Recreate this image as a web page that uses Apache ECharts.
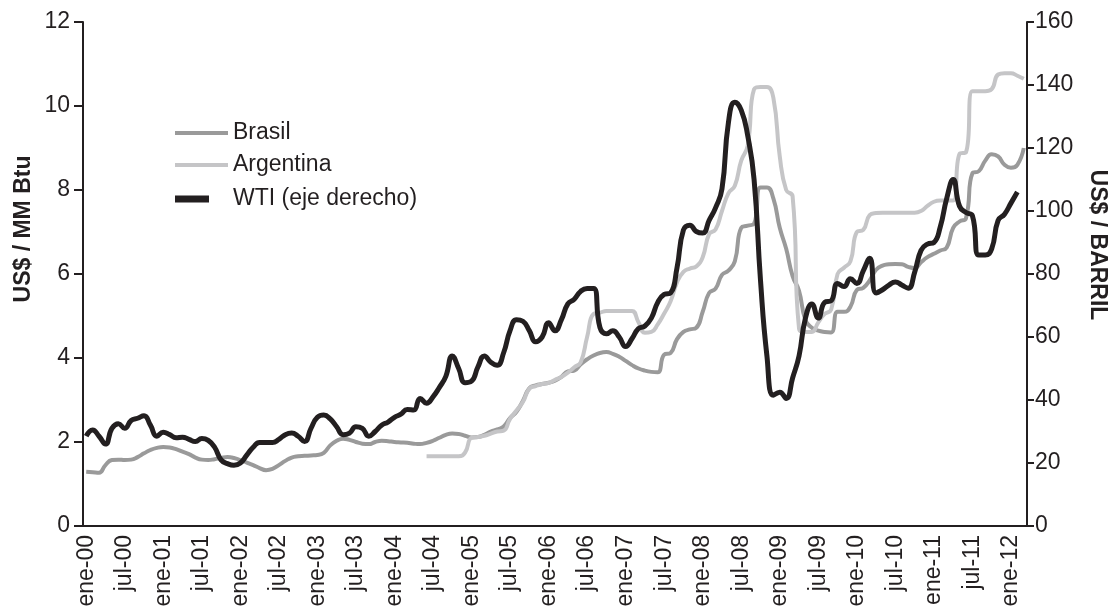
<!DOCTYPE html>
<html>
<head>
<meta charset="utf-8">
<script src="https://cdn.jsdelivr.net/npm/echarts@6/dist/echarts.min.js"></script>
<style>
    html, body { margin: 0; padding: 0; background: #fff; }
    #chart { width: 1108px; height: 611px; }
</style>
</head>
<body>
<div id="chart"></div>
<script>
// meses ene-00 .. mar-12
const meses = ['ene', 'feb', 'mar', 'abr', 'may', 'jun', 'jul', 'ago', 'sep', 'oct', 'nov', 'dic'];
const anios = ['00', '01', '02', '03', '04', '05', '06', '07', '08', '09', '10', '11', '12'];
const totalMeses = 147;

// US$ / MM Btu
const brasil = [
    1.29, 1.28, 1.27, 1.45, 1.57, 1.58, 1.57, 1.58, 1.64, 1.73, 1.81, 1.86,
    1.88, 1.87, 1.83, 1.77, 1.71, 1.63, 1.58, 1.57, 1.59, 1.62, 1.64, 1.62,
    1.57, 1.51, 1.45, 1.38, 1.33, 1.36, 1.45, 1.55, 1.63, 1.66, 1.67, 1.68,
    1.69, 1.74, 1.92, 2.03, 2.08, 2.05, 2.00, 1.96, 1.95, 2.00, 2.03, 2.02,
    2.00, 1.99, 1.98, 1.96, 1.95, 1.98, 2.03, 2.10, 2.17, 2.20, 2.19, 2.15,
    2.11, 2.12, 2.17, 2.25, 2.30, 2.37, 2.57, 2.72, 2.98, 3.28, 3.35, 3.38,
    3.41, 3.46, 3.55, 3.68, 3.70, 3.85, 3.97, 4.06, 4.12, 4.14, 4.10, 4.03,
    3.93, 3.83, 3.75, 3.70, 3.67, 3.66, 4.08, 4.12, 4.45, 4.62, 4.68, 4.72,
    5.10, 5.55, 5.65, 5.98, 6.08, 6.30, 7.10, 7.15, 7.20, 8.06, 8.06, 7.80,
    7.10, 6.60, 5.95, 5.60, 4.90, 4.72, 4.65, 4.62, 4.61, 5.10, 5.10, 5.22,
    5.62, 5.67, 5.85, 6.10, 6.20, 6.23, 6.24, 6.23, 6.17, 6.14, 6.28, 6.40,
    6.48, 6.56, 6.63, 7.10, 7.25, 7.33, 8.40, 8.45, 8.70, 8.85, 8.80, 8.60,
    8.53, 8.60, 9.00
];

// Argentina empieza en jun-04
const argentinaInicio = 53;
const argentina = [
    1.66, 1.66, 1.66, 1.66, 1.66, 1.66, 1.75,
    2.10, 2.12, 2.15, 2.20, 2.25, 2.27, 2.55, 2.75, 2.95, 3.27, 3.33, 3.38,
    3.41, 3.48, 3.55, 3.65, 3.78, 3.90, 4.50, 5.05, 5.08, 5.12, 5.12, 5.12,
    5.12, 5.12, 4.85, 4.60, 4.62, 4.80, 5.06, 5.35, 5.80, 6.05, 6.13, 6.18,
    6.40, 6.95, 7.06, 7.50, 7.92, 8.10, 8.70, 9.05, 10.40, 10.45, 10.45, 10.20,
    8.80, 8.00, 7.85, 4.70, 4.62, 4.62, 4.85, 5.05, 5.15, 6.00, 6.15, 6.30,
    7.00, 7.05, 7.40, 7.45, 7.46, 7.46, 7.46, 7.46, 7.46, 7.46, 7.50, 7.62,
    7.72, 7.75, 7.75, 7.75, 8.86, 8.90, 10.35, 10.35, 10.35, 10.40, 10.75, 10.78,
    10.78, 10.72, 10.65
];

// US$ / barril (eje derecho)
const wti = [
    28.5, 30.5, 28.5, 26, 31, 32.5, 31, 33.5, 34.2, 35, 32, 28.5,
    29.8, 29, 28, 28.2, 27.5, 26.8, 27.8, 27.2, 25, 21, 19.8, 19.3,
    20, 22.5, 25, 26.5, 26.5, 26.5, 27.5, 29, 29.5, 28.5, 26.8, 31,
    34.5, 35.2, 34, 31.5, 29, 29.5, 31.5, 31, 28.5, 30, 32, 33,
    34.5, 35.5, 37, 36.8, 40.5, 39, 41, 44, 47.5, 54, 50, 45.5,
    46, 50.5, 54, 52, 51, 55, 62, 65.5, 65, 62, 58.5, 60,
    64.5, 62, 65.5, 70.5, 72, 74.5, 75.4, 75.4, 63, 61, 62, 60,
    57, 59.5, 62.7, 63.5, 66, 71, 73.5, 74, 82, 94, 95.5, 93.5,
    93, 97, 101, 107, 128, 134.5, 132, 124, 110, 78, 54, 41.5,
    42.5, 40.5, 47, 54, 66, 70.5, 66, 71, 71.5, 77, 76, 78.5,
    77, 81, 85, 74, 75, 76.5, 77.5, 76.5, 75.5, 80.5, 87.5, 89.5,
    90, 95, 104, 110, 101.5, 99.5, 98.5, 86, 86, 88, 97, 99,
    102.5, 106
];

const ejeIzq = { min: 0, max: 12, interval: 2 };
const ejeDer = { min: 0, max: 160, interval: 20 };

const categorias = [];
anios.forEach(a => {
    meses.forEach(m => {
        if (categorias.length < totalMeses) categorias.push(m + '-' + a);
    });
});
const argentinaSerie = new Array(argentinaInicio).fill(null).concat(argentina);

const fuente = '"Liberation Sans", Arial, sans-serif';
const negro = '#231f20';
const grisBrasil = '#9a9a9a';
const grisArgentina = '#c5c5c7';

const chart = echarts.init(document.getElementById('chart'), null, { renderer: 'canvas' });

const legendaBase = {
    orient: 'vertical',
    left: 175,
    padding: 0,
    icon: 'rect',
    itemWidth: 53,
    itemHeight: 4,
    selectedMode: false,
    textStyle: { fontFamily: fuente, fontSize: 23, color: negro, lineHeight: 26 }
};

const option = {
    animation: false,
    backgroundColor: '#fff',
    grid: { left: 83, right: 81, top: 22, bottom: 85 },
    legend: [
        Object.assign({}, legendaBase, { data: ['Brasil'], top: 120 }),
        Object.assign({}, legendaBase, { data: ['Argentina'], top: 152 }),
        Object.assign({}, legendaBase, {
            data: ['WTI (eje derecho)'], top: 186, itemWidth: 34, itemHeight: 7,
            textStyle: { fontFamily: fuente, fontSize: 23, color: negro, lineHeight: 26, padding: [0, 0, 0, 19] }
        })
    ],
    graphic: [
        {
            type: 'text', x: 24, y: 229, rotation: Math.PI / 2,
            style: {
                text: 'US$ / MM Btu', fill: negro,
                font: 'bold 23px ' + fuente,
                align: 'center', verticalAlign: 'middle',
                textAlign: 'center', textVerticalAlign: 'middle'
            }
        },
        {
            type: 'text', x: 1097, y: 245, rotation: -Math.PI / 2,
            style: {
                text: 'US$ / BARRIL', fill: negro,
                font: 'bold 23px ' + fuente,
                align: 'center', verticalAlign: 'middle',
                textAlign: 'center', textVerticalAlign: 'middle'
            }
        }
    ],
    xAxis: {
        type: 'category',
        data: categorias,
        boundaryGap: true,
        axisLine: { lineStyle: { color: negro, width: 2 } },
        axisTick: { interval: 2, length: 5, lineStyle: { color: negro, width: 2 } },
        axisLabel: {
            interval: 5, rotate: 90, margin: 9,
            fontFamily: fuente, fontSize: 23, color: negro
        },
        splitLine: { show: false }
    },
    yAxis: [
        {
            type: 'value',
            min: ejeIzq.min, max: ejeIzq.max, interval: ejeIzq.interval,
            axisLine: { show: true, lineStyle: { color: negro, width: 2 } },
            axisTick: { show: true, length: 9, lineStyle: { color: negro, width: 2 } },
            axisLabel: { margin: 13, fontFamily: fuente, fontSize: 23, color: negro },
            splitLine: { show: false }
        },
        {
            type: 'value',
            position: 'right',
            min: ejeDer.min, max: ejeDer.max, interval: ejeDer.interval,
            axisLine: { show: true, lineStyle: { color: negro, width: 2 } },
            axisTick: { show: true, length: 7, lineStyle: { color: negro, width: 2 } },
            axisLabel: { margin: 8, fontFamily: fuente, fontSize: 23, color: negro },
            splitLine: { show: false }
        }
    ],
    series: [
        {
            name: 'Brasil',
            type: 'line',
            data: brasil,
            smooth: true,
            showSymbol: false,
            color: grisBrasil,
            lineStyle: { width: 4, color: grisBrasil }
        },
        {
            name: 'Argentina',
            type: 'line',
            data: argentinaSerie,
            smooth: true,
            showSymbol: false,
            color: grisArgentina,
            lineStyle: { width: 4, color: grisArgentina }
        },
        {
            name: 'WTI (eje derecho)',
            type: 'line',
            yAxisIndex: 1,
            data: wti,
            smooth: true,
            showSymbol: false,
            color: negro,
            lineStyle: { width: 5, color: negro }
        }
    ]
};

chart.setOption(option);
</script>
</body>
</html>
